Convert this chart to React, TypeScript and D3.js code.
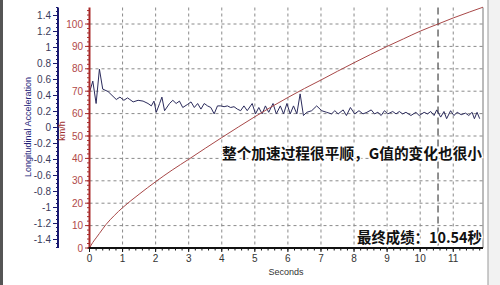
import React from "react";
import * as d3 from "d3";

const speedTime = [0, 0.1, 0.2, 0.3, 0.5, 0.75, 1, 1.5, 2, 2.5, 3, 3.5, 4, 4.5, 5, 5.5, 6, 6.5, 7, 7.5, 8, 8.5, 9, 9.5, 10, 10.54, 11, 11.5, 11.9];
const speedKmh = [0, 2.5, 4.5, 6.5, 10.5, 14.5, 18, 24, 29.6, 34.8, 39.6, 44.5, 49.3, 54, 58.6, 63, 67.2, 71.2, 75, 78.9, 82.7, 86.4, 90, 93.4, 96.8, 100, 102.7, 105.4, 107.5];

const accelTime = [0, 0.1, 0.2, 0.3, 0.4, 0.56, 0.81, 0.92, 1.04, 1.15, 1.22, 1.32, 1.47, 1.62, 1.77, 1.87, 1.95, 2.02, 2.12, 2.19, 2.27, 2.42, 2.52, 2.62, 2.72, 2.82, 2.97, 3.07, 3.17, 3.27, 3.37, 3.47, 3.57, 3.67, 3.77, 3.87, 3.97, 4.07, 4.17, 4.27, 4.37, 4.47, 4.57, 4.67, 4.77, 4.92, 5.02, 5.12, 5.22, 5.32, 5.42, 5.55, 5.65, 5.77, 5.87, 5.97, 6.07, 6.17, 6.27, 6.37, 6.47, 6.57, 6.72, 6.87, 7.02, 7.17, 7.32, 7.42, 7.52, 7.67, 7.77, 7.89, 8.02, 8.15, 8.27, 8.39, 8.52, 8.62, 8.72, 8.82, 8.92, 9.02, 9.17, 9.27, 9.37, 9.47, 9.57, 9.72, 9.87, 9.97, 10.12, 10.22, 10.32, 10.42, 10.5, 10.62, 10.72, 10.8, 10.92, 11.02, 11.12, 11.24, 11.37, 11.47, 11.57, 11.64, 11.72, 11.8];
const accelG = [0.44, 0.58, 0.3, 0.73, 0.48, 0.45, 0.35, 0.38, 0.34, 0.37, 0.35, 0.32, 0.34, 0.33, 0.3, 0.27, 0.33, 0.19, 0.3, 0.38, 0.21, 0.3, 0.34, 0.3, 0.33, 0.25, 0.29, 0.32, 0.25, 0.3, 0.23, 0.3, 0.27, 0.25, 0.17, 0.27, 0.27, 0.26, 0.27, 0.25, 0.26, 0.23, 0.21, 0.27, 0.21, 0.3, 0.17, 0.25, 0.17, 0.27, 0.19, 0.3, 0.17, 0.27, 0.17, 0.3, 0.17, 0.27, 0.17, 0.42, 0.15, 0.19, 0.21, 0.27, 0.21, 0.19, 0.17, 0.21, 0.17, 0.22, 0.15, 0.25, 0.17, 0.21, 0.17, 0.19, 0.22, 0.17, 0.19, 0.15, 0.21, 0.17, 0.2, 0.17, 0.2, 0.17, 0.19, 0.15, 0.19, 0.15, 0.19, 0.17, 0.2, 0.15, 0.22, 0.13, 0.2, 0.11, 0.21, 0.15, 0.19, 0.16, 0.18, 0.15, 0.19, 0.11, 0.19, 0.11];

const gTicks = [-1.4, -1.2, -1, -0.8, -0.6, -0.4, -0.2, 0, 0.2, 0.4, 0.6, 0.8, 1, 1.2, 1.4];
const speedTicks = [0, 10, 20, 30, 40, 50, 60, 70, 80, 90, 100];
const timeTicks = [0, 1, 2, 3, 4, 5, 6, 7, 8, 9, 10, 11];
const finishTime = 10.54;

const noteText = "整个加速过程很平顺，G值的变化也很小";
const resultText = "最终成绩：10.54秒";
const gAxisTitle = "Longitudinal Acceleration";
const speedAxisTitle = "km/h";
const timeAxisTitle = "Seconds";

export default function App() {
  const x = d3.scaleLinear().domain([0, 11.9]).range([89.5, 483]);
  const yS = d3.scaleLinear().domain([0, 100]).range([248, 24]);
  const yG = d3.scaleLinear().domain([-1.5, 1.5]).range([247.5, 7.5]);

  const speedLine = d3.line<number>().x((_, i) => x(speedTime[i])).y((d) => yS(d)).curve(d3.curveMonotoneX)(speedKmh) || "";
  const accelLine = d3.line<number>().x((_, i) => x(accelTime[i])).y((d) => yG(d))(accelG) || "";

  const fmt = (v: number) => String(Math.round(v * 10) / 10).replace("\u2212", "-");
  const gMinor = d3.range(-1.5, 1.5001, 0.05);
  const sMinor = d3.range(0, 107.01, 2);
  const tMinor = d3.range(0, 11.901, 0.2);
  const font = "Liberation Sans, Arial, sans-serif";
  const cjk = "'Noto Sans CJK SC', sans-serif";
  const top = 7.5, bottom = 248, left = 89.5, right = 483;

  return (
    <svg width={500} height={285} style={{ position: "absolute", left: 0, top: 0 }} fontFamily={font}>
      <rect x={0} y={0} width={500} height={285} fill="#ffffff" />
      <rect x={0} y={0} width={3} height={285} fill="#555" />
      <rect x={488} y={0} width={12} height={285} fill="#f2f2f2" />
      <line x1={488} x2={488} y1={0} y2={285} stroke="#999" />

      {/* grid */}
      {timeTicks.filter((t) => t > 0).map((t) => (
        <line key={"vg" + t} x1={x(t)} x2={x(t)} y1={top} y2={bottom} stroke="#8a8a8a" strokeWidth={1} strokeDasharray="3,3" />
      ))}
      {speedTicks.filter((s) => s > 0).map((s) => (
        <line key={"hg" + s} x1={left} x2={right} y1={yS(s)} y2={yS(s)} stroke="#8a8a8a" strokeWidth={1} strokeDasharray="3,3" />
      ))}
      <line x1={x(finishTime)} x2={x(finishTime)} y1={top} y2={bottom} stroke="#222" strokeWidth={1} strokeDasharray="7,4" />
      <line x1={right} x2={right} y1={top} y2={bottom} stroke="#777" strokeWidth={1} />

      {/* data */}
      <path d={accelLine} fill="none" stroke="#2b2b5c" strokeWidth={1} />
      <path d={speedLine} fill="none" stroke="#a84848" strokeWidth={1} />

      {/* G axis */}
      <line x1={58} x2={58} y1={top} y2={bottom} stroke="#1a1a70" strokeWidth={2} />
      {gMinor.map((v, i) => (
        <line key={"gm" + i} x1={56} x2={58} y1={yG(v)} y2={yG(v)} stroke="#1a1a70" strokeWidth={1} />
      ))}
      {gTicks.map((v) => (
        <g key={"gt" + v}>
          <line x1={53} x2={58} y1={yG(v)} y2={yG(v)} stroke="#1a1a70" strokeWidth={1} />
          <text x={51} y={yG(v)} dy="0.35em" textAnchor="end" fontSize={10} fill="#3a3a5a">{fmt(v)}</text>
        </g>
      ))}
      <text transform={`translate(31,127) rotate(-90)`} textAnchor="middle" fontSize={9} fill="#23237a">{gAxisTitle}</text>

      {/* speed axis */}
      {sMinor.map((v, i) => (
        <line key={"sm" + i} x1={87} x2={89.5} y1={yS(v)} y2={yS(v)} stroke="#a83030" strokeWidth={1} />
      ))}
      {speedTicks.map((v) => (
        <g key={"st" + v}>
          <line x1={85} x2={89.5} y1={yS(v)} y2={yS(v)} stroke="#a83030" strokeWidth={1} />
          <text x={83} y={yS(v)} dy="0.35em" textAnchor="end" fontSize={10} fill="#b04848">{v}</text>
        </g>
      ))}
      <line x1={89.5} x2={89.5} y1={top} y2={bottom} stroke="#a82828" strokeWidth={2} />
      <text transform={`translate(65,131) rotate(-90)`} textAnchor="middle" fontSize={9} fill="#a03030">{speedAxisTitle}</text>

      {/* time axis */}
      {tMinor.map((v, i) => (
        <line key={"tm" + i} x1={x(v)} x2={x(v)} y1={bottom} y2={bottom + 2.5} stroke="#111" strokeWidth={1} />
      ))}
      {timeTicks.map((t) => (
        <g key={"tt" + t}>
          <line x1={x(t)} x2={x(t)} y1={bottom} y2={bottom + 4} stroke="#111" strokeWidth={1} />
          <text x={x(t)} y={262} textAnchor="middle" fontSize={10} fill="#333">{t}</text>
        </g>
      ))}
      <line x1={left - 1} x2={right} y1={bottom} y2={bottom} stroke="#111" strokeWidth={2} />
      <text x={286} y={275} textAnchor="middle" fontSize={9} fill="#333">{timeAxisTitle}</text>

      {/* annotations */}
      <text x={482} y={159} textAnchor="end" fontSize={15} fontWeight="bold" fontFamily={cjk} fill="#111" stroke="#fff" strokeWidth={3} paintOrder="stroke" textLength={260} lengthAdjust="spacingAndGlyphs">{noteText}</text>
      <text x={482} y={243} textAnchor="end" fontSize={15} fontWeight="bold" fontFamily={cjk} fill="#111" stroke="#fff" strokeWidth={3} paintOrder="stroke" textLength={125} lengthAdjust="spacingAndGlyphs">{resultText}</text>
    </svg>
  );
}
